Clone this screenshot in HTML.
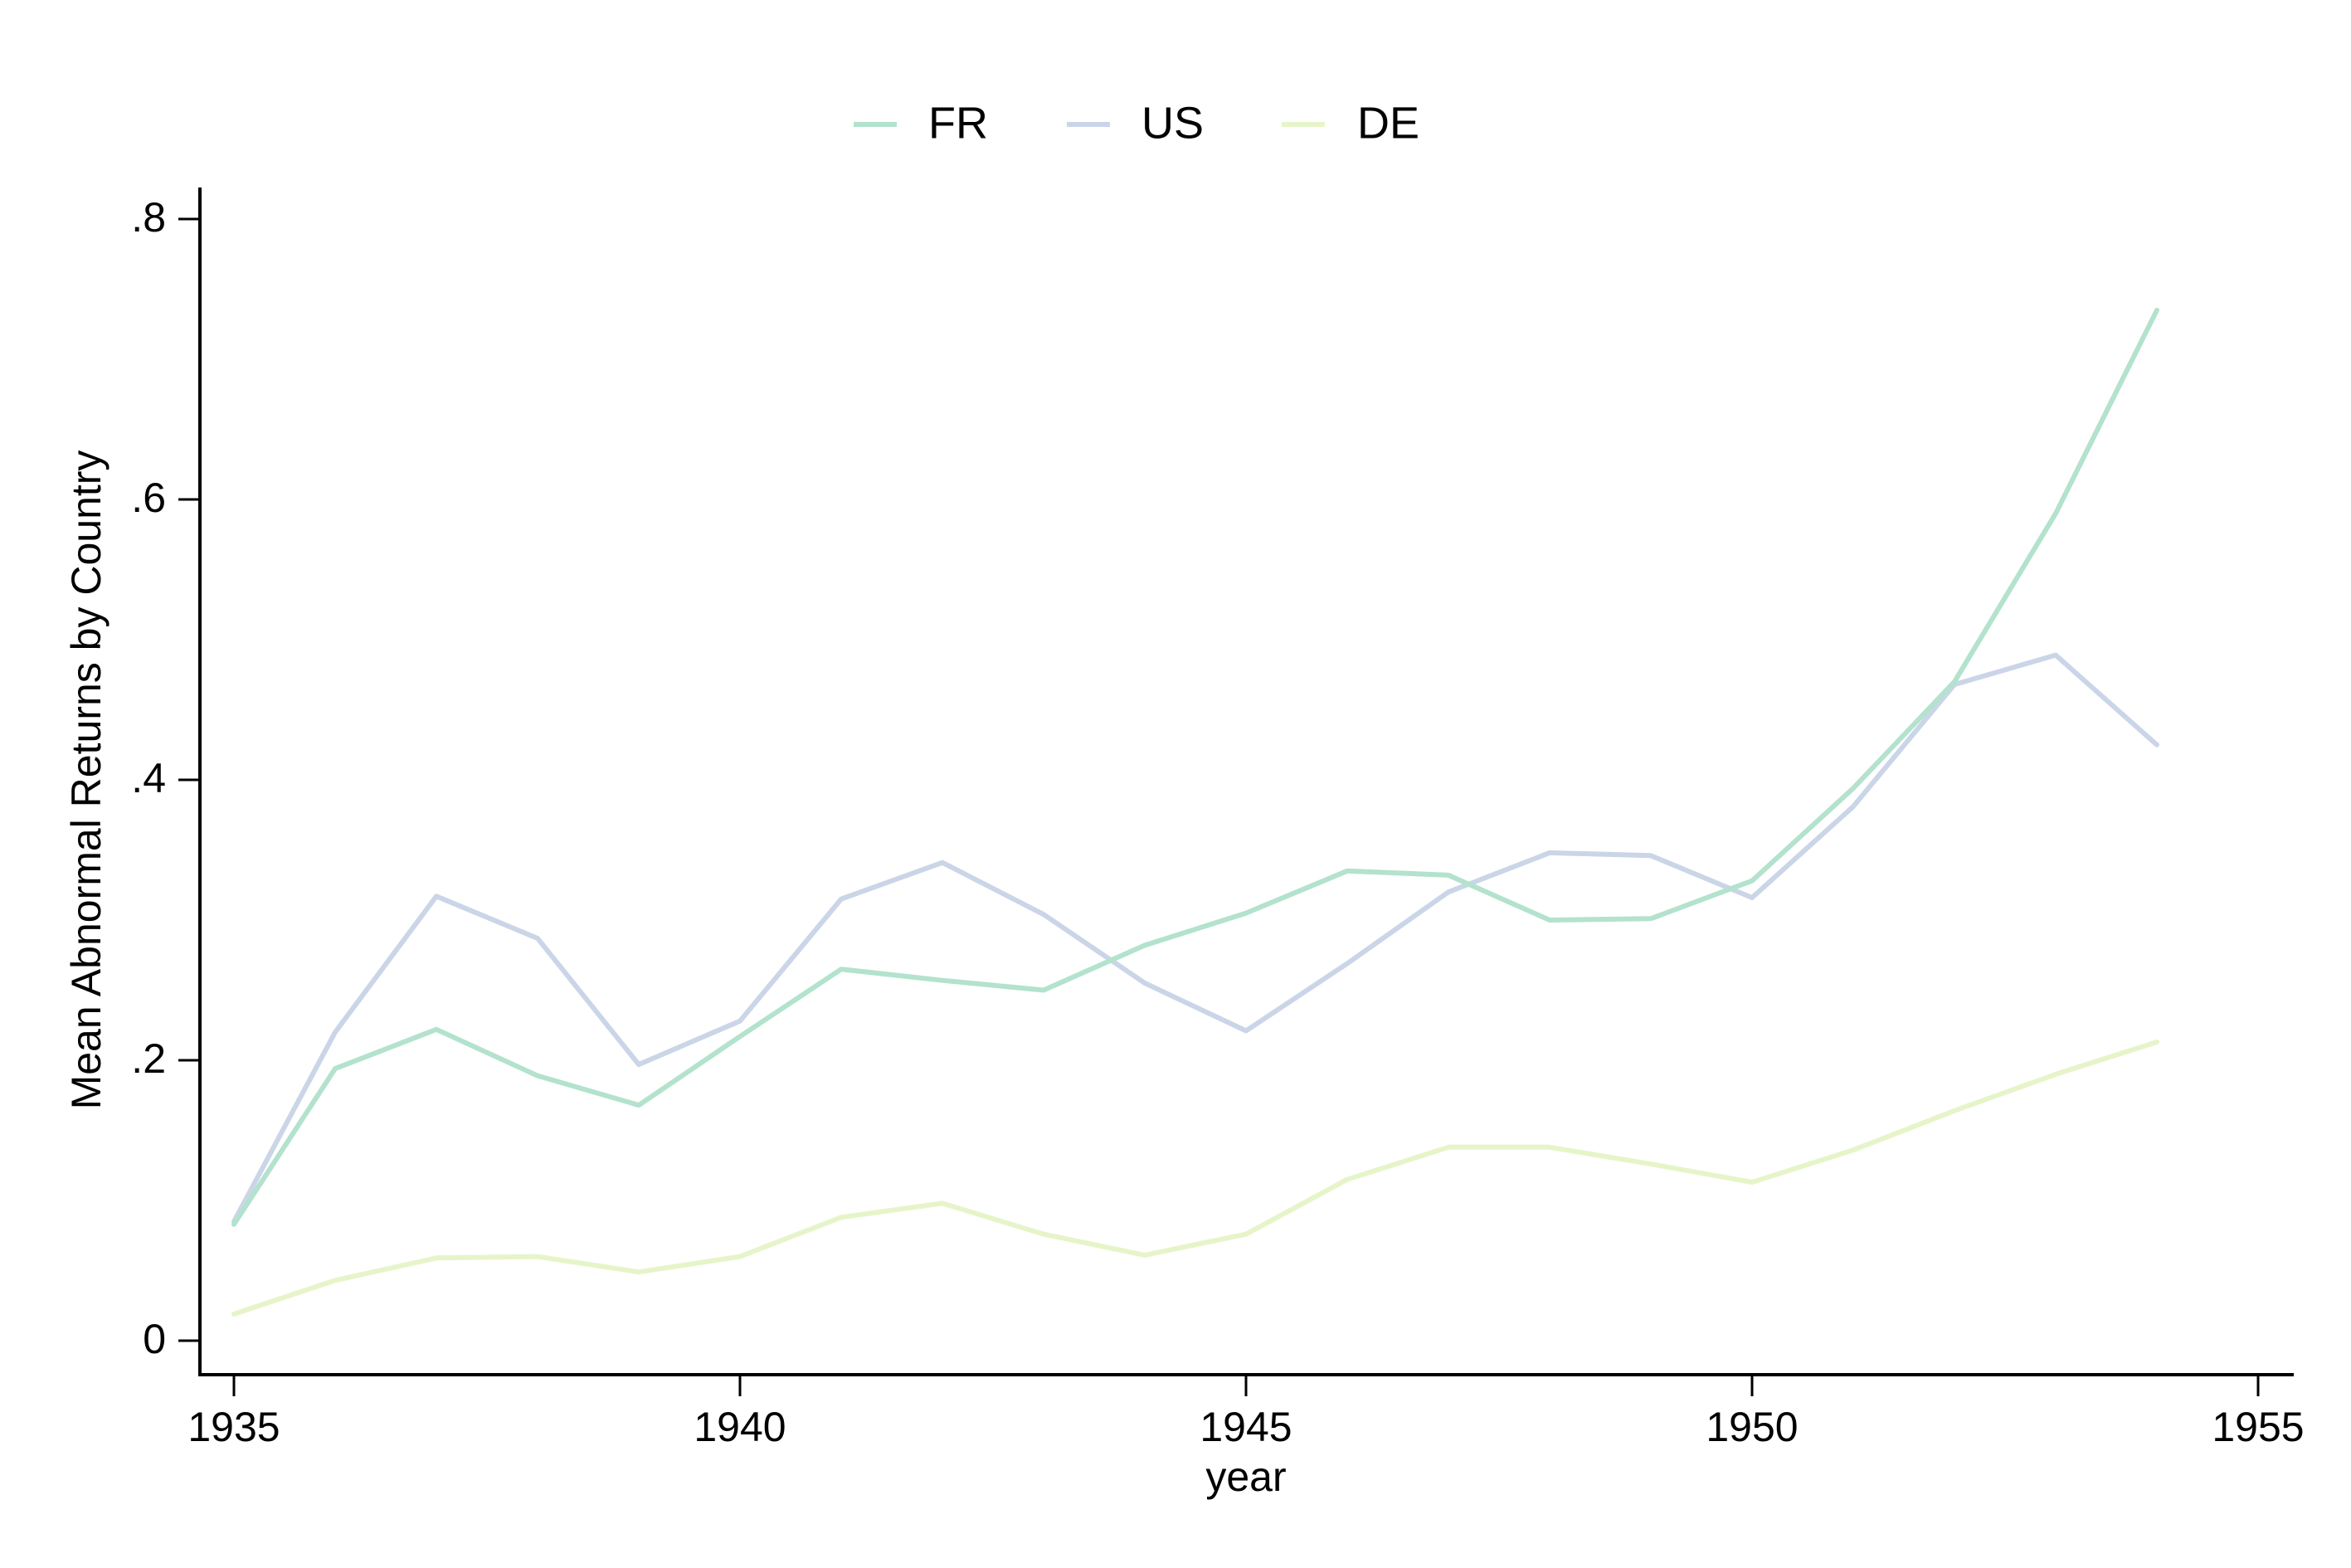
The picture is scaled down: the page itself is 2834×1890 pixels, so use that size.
<!DOCTYPE html>
<html><head><meta charset="utf-8"><style>
html,body{margin:0;padding:0;background:#fff;}
svg{display:block;font-family:"Liberation Sans",Arial,sans-serif;}
</style></head><body>
<svg id="chart" width="2834" height="1890" viewBox="0 0 2834 1890" xmlns="http://www.w3.org/2000/svg">
<rect width="2834" height="1890" fill="#fff"/>
<g id="legend">
 <g><line x1="1029" y1="150" x2="1081" y2="150" stroke="#b3e2cd" stroke-width="6"/><text x="1119" y="152" font-size="54" dominant-baseline="middle">FR</text></g>
 <g><line x1="1286" y1="150" x2="1338" y2="150" stroke="#cbd5e8" stroke-width="6"/><text x="1376" y="152" font-size="54" dominant-baseline="middle">US</text></g>
 <g><line x1="1545" y1="150" x2="1597" y2="150" stroke="#e6f5c9" stroke-width="6"/><text x="1636" y="152" font-size="54" dominant-baseline="middle">DE</text></g>
</g>
<g id="axes"></g>
<g id="series"></g>
<text x="1502" y="1784" font-size="50" text-anchor="middle" dominant-baseline="middle">year</text>
<text x="108" y="940" font-size="50" text-anchor="middle" dominant-baseline="middle" transform="rotate(-90 108 940)">Mean Abnormal Returns by Country</text>
</svg>
<script>
const years = [1935,1936,1937,1938,1939,1940,1941,1942,1943,1944,1945,1946,1947,1948,1949,1950,1951,1952,1953,1954];
const frValues = [0.083,0.194,0.222,0.189,0.168,0.217,0.265,0.257,0.250,0.282,0.305,0.335,0.332,0.300,0.301,0.328,0.394,0.470,0.590,0.735];
const usValues = [0.085,0.220,0.317,0.287,0.197,0.228,0.315,0.341,0.304,0.255,0.221,0.269,0.320,0.348,0.346,0.316,0.381,0.468,0.489,0.425];
const deValues = [0.019,0.043,0.059,0.060,0.049,0.060,0.088,0.098,0.076,0.061,0.076,0.115,0.138,0.138,0.126,0.113,0.136,0.164,0.190,0.213];
const xTicks = [1935,1940,1945,1950,1955];
const yTicks = [0,0.2,0.4,0.6,0.8];
const yTickLabels = ["0",".2",".4",".6",".8"];

const NS = "http://www.w3.org/2000/svg";
function xScale(v){ return 282 + (v - 1935) * (2722 - 282) / 20; }
function yScale(v){ return 1616 - v * (1616 - 264) / 0.8; }
function mk(tag, attrs, parent){ const e = document.createElementNS(NS, tag); for (const k in attrs) e.setAttribute(k, attrs[k]); parent.appendChild(e); return e; }

const axes = document.getElementById('axes');
const yAxis = mk('line', {x1:241, y1:226, x2:241, y2:1658, stroke:'#000', 'stroke-width':4}, axes);


const xAxis = mk('line', {x1:239, y1:1657, x2:2765, y2:1657, stroke:'#000', 'stroke-width':4}, axes);



yTicks.forEach((v, i) => {
  const y = yScale(v);
  const t = mk('line', {x1:215, y1:y, x2:241, y2:y, stroke:'#000', 'stroke-width':3}, axes);
  
  
  const l = mk('text', {x:200, y:y + 2, 'font-size':50, 'text-anchor':'end', 'dominant-baseline':'middle'}, axes);
  l.textContent = yTickLabels[i];
  
  
});
xTicks.forEach(v => {
  const x = xScale(v);
  const t = mk('line', {x1:x, y1:1657, x2:x, y2:1683, stroke:'#000', 'stroke-width':3}, axes);
  
  
  const l = mk('text', {x:x, y:1737, 'font-size':50, 'text-anchor':'middle'}, axes);
  l.textContent = String(v);
  
  
});

const series = document.getElementById('series');
function drawLine(vals, color, name){
  const pts = years.map((yr, i) => xScale(yr).toFixed(1) + ',' + yScale(vals[i]).toFixed(1)).join(' ');
  const p = mk('polyline', {points:pts, fill:'none', stroke:color, 'stroke-width':6, 'stroke-linejoin':'round', 'stroke-linecap':'round'}, series);
  
  
}
drawLine(deValues, '#e6f5c9', 'line-de');
drawLine(usValues, '#cbd5e8', 'line-us');
drawLine(frValues, '#b3e2cd', 'line-fr');
</script>
</body></html>
